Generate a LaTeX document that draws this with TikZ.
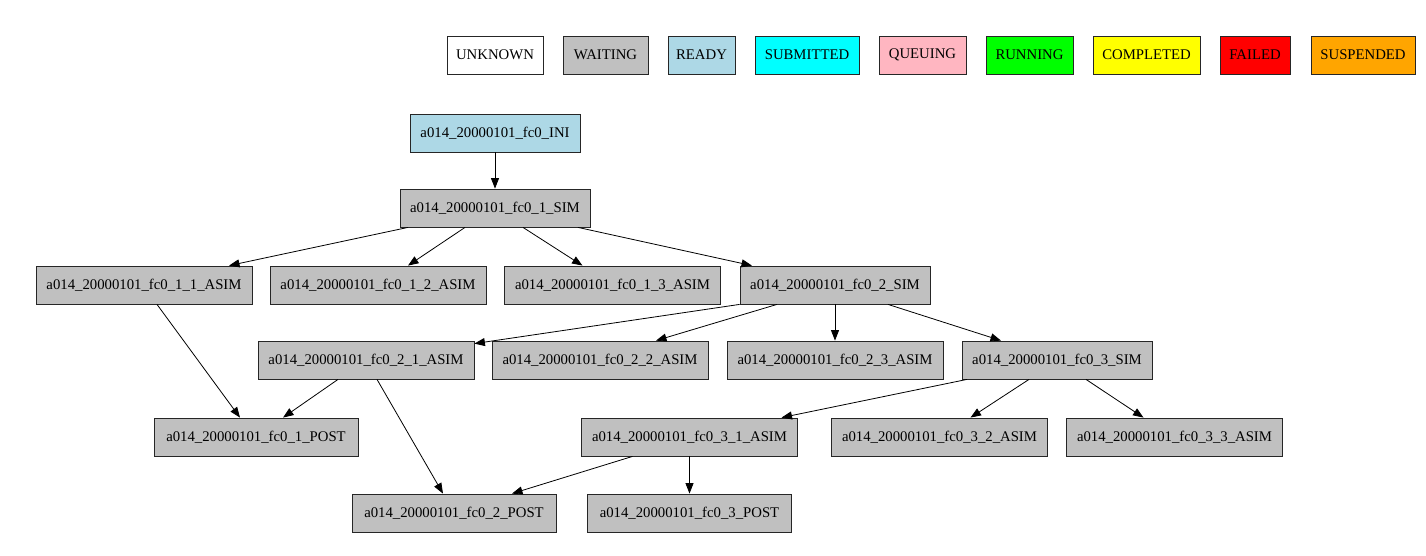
\documentclass[tikz,border=0pt]{standalone}
\usepackage{fontspec}
\setmainfont{Liberation Serif}
\usepackage{xcolor}
\usepackage{tikz}
\usetikzlibrary{arrows.meta, positioning}

\definecolor{waitgray}{HTML}{C0C0C0}
\definecolor{readyblue}{HTML}{ADD8E6}
\definecolor{subcyan}{HTML}{00FFFF}
\definecolor{queuepink}{HTML}{FFB6C1}
\definecolor{rungreen}{HTML}{00FF00}
\definecolor{compyellow}{HTML}{FFFF00}
\definecolor{failred}{HTML}{FF0000}
\definecolor{susporange}{HTML}{FFA500}

\begin{document}
\begin{tikzpicture}[
  x=1pt, y=-1pt,
  every node/.style={font=\fontsize{14.75}{17}\selectfont},
  job/.style={rectangle, draw=black!85, line width=0.8pt, minimum height=38pt,
              inner sep=0pt, fill=waitgray},
  legbox/.style={job},
  ini/.style ={job, fill=readyblue, minimum width=170pt},
  sim/.style ={job, minimum width=190pt},
  asim/.style={job, minimum width=216pt},
  post/.style={job, minimum width=204pt},
  dep/.style ={draw=black, line width=0.8pt, -{Triangle[length=10.5pt,width=8pt]}}
]
\useasboundingbox (0,0) rectangle (1426,555);

%% legend
\foreach \st/\col/\cx/\w in {UNKNOWN/white/495/96, WAITING/waitgray/605.5/85,
    READY/readyblue/701.5/67, SUBMITTED/subcyan/807/104,
    QUEUING/queuepink/922.5/87, RUNNING/rungreen/1029.5/87,
    COMPLETED/compyellow/1146.5/107, FAILED/failred/1255/70,
    SUSPENDED/susporange/1363/104}
  \node[legbox, fill=\col, minimum width=\w pt] (leg-\st) at (\cx,55) {\st};

%% jobs
\node[ini]  (ini)  at (495,133)   {a014\_20000101\_fc0\_INI};
\node[sim]  (sim1) at (495,208)   {a014\_20000101\_fc0\_1\_SIM};
\node[asim] (a11)  at (144,285)   {a014\_20000101\_fc0\_1\_1\_ASIM};
\node[asim] (a12)  at (378,285)   {a014\_20000101\_fc0\_1\_2\_ASIM};
\node[asim] (a13)  at (612.5,285) {a014\_20000101\_fc0\_1\_3\_ASIM};
\node[sim]  (sim2) at (835,285)   {a014\_20000101\_fc0\_2\_SIM};
\node[asim] (a21)  at (366,360)   {a014\_20000101\_fc0\_2\_1\_ASIM};
\node[asim] (a22)  at (600,360)   {a014\_20000101\_fc0\_2\_2\_ASIM};
\node[asim] (a23)  at (835,360)   {a014\_20000101\_fc0\_2\_3\_ASIM};
\node[sim]  (sim3) at (1057,360)  {a014\_20000101\_fc0\_3\_SIM};
\node[post] (p1)   at (256,437)   {a014\_20000101\_fc0\_1\_POST};
\node[asim] (a31)  at (689.5,437) {a014\_20000101\_fc0\_3\_1\_ASIM};
\node[asim] (a32)  at (939.5,437) {a014\_20000101\_fc0\_3\_2\_ASIM};
\node[asim] (a33)  at (1174.5,437){a014\_20000101\_fc0\_3\_3\_ASIM};
\node[post] (p2)   at (454,513)   {a014\_20000101\_fc0\_2\_POST};
\node[post] (p3)   at (689.5,513) {a014\_20000101\_fc0\_3\_POST};

%% dependencies
\foreach \a/\sa/\b/\sb in {ini/0/sim1/0, sim1/-87/a11/85, sim1/-30/a12/30,
    sim1/28/a13/-30, sim1/83/sim2/-83, a11/13/p1/-16, sim2/-58/a22/56,
    sim2/0/a23/0, sim2/53/sim3/-56, a21/-28/p1/27, a21/11/p2/-11,
    sim3/-90/a31/92, sim3/-28/a32/31, sim3/29/a33/-31, a31/-57/p2/58,
    a31/0/p3/0}
  \draw[dep] ([xshift=\sa pt]\a.south) -- ([xshift=\sb pt]\b.north);
\draw[dep] (sim2.south west) -- ([yshift=-3pt]a21.north east);
\end{tikzpicture}
\end{document}
